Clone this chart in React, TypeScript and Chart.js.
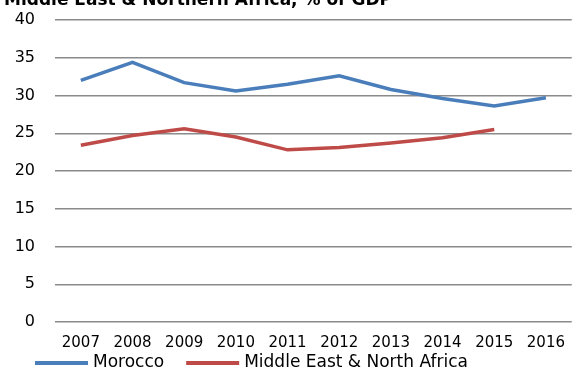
import React, { useEffect, useRef } from "react";
import { Chart, registerables } from "chart.js";

Chart.register(...registerables);

const years = ["2007", "2008", "2009", "2010", "2011", "2012", "2013", "2014", "2015", "2016"];
const morocco = [32.0, 34.4, 31.7, 30.6, 31.5, 32.6, 30.8, 29.6, 28.6, 29.7];
const mena = [23.4, 24.7, 25.6, 24.5, 22.8, 23.1, 23.7, 24.4, 25.5, null];
const seriesNames = ["Morocco", "Middle East & North Africa"];
const seriesColors = ["#4A7EBB", "#BE4B48"];
const titleText = "Middle East & Northern Africa, % of GDP";
const FONT = "'DejaVu Sans', sans-serif";

// Title sits at the very top edge; legend is drawn as a row of long line swatches.
const headerAndLegend = {
  id: "headerAndLegend",
  afterDraw(chart: Chart) {
    const ctx = chart.ctx;
    ctx.save();
    ctx.fillStyle = "#000";
    ctx.font = `bold 17px ${FONT}`;
    ctx.textAlign = "left";
    ctx.textBaseline = "alphabetic";
    ctx.fillText(titleText, 4, 5);

    ctx.font = `17px ${FONT}`;
    ctx.textBaseline = "middle";
    const y = 363;
    let x = 35;
    chart.data.datasets.forEach((ds) => {
      ctx.fillStyle = ds.borderColor as string;
      ctx.fillRect(x, y - 2, 53, 4);
      x += 58;
      ctx.fillStyle = "#000";
      const label = ds.label as string;
      ctx.fillText(label, x, y);
      x += ctx.measureText(label).width + 22;
    });
    ctx.restore();
  },
};

export default function App() {
  const ref = useRef<HTMLCanvasElement | null>(null);

  useEffect(() => {
    if (!ref.current) return;
    const chart = new Chart(ref.current, {
      type: "line",
      data: {
        labels: years,
        datasets: [
          {
            label: seriesNames[0],
            data: morocco,
            borderColor: seriesColors[0],
            backgroundColor: seriesColors[0],
            borderWidth: 3.5,
            pointRadius: 0,
            tension: 0,
          },
          {
            label: seriesNames[1],
            data: mena,
            borderColor: seriesColors[1],
            backgroundColor: seriesColors[1],
            borderWidth: 3.5,
            pointRadius: 0,
            tension: 0,
          },
        ],
      },
      options: {
        animation: false,
        responsive: true,
        maintainAspectRatio: false,
        layout: { padding: { left: 15, right: 0, top: 20, bottom: 21 } },
        plugins: {
          title: { display: false },
          legend: { display: false },
          tooltip: { enabled: false },
        },
        scales: {
          x: {
            offset: true,
            grid: { display: false, drawTicks: false },
            border: { display: false },
            ticks: { color: "#000", font: { family: FONT, size: 15 }, padding: 12, maxRotation: 0 },
            afterFit: (scale: any) => {
              scale.height = 29;
            },
          },
          y: {
            min: 0,
            max: 40,
            border: { display: false },
            grid: { color: "#8A8A8A", lineWidth: 1.5, drawTicks: false },
            ticks: { stepSize: 5, color: "#000", font: { family: FONT, size: 16 }, padding: 20 },
            afterFit: (scale: any) => {
              scale.width = 40;
              scale.paddingTop = 0;
              scale.paddingBottom = 0;
            },
          },
        },
      },
      plugins: [headerAndLegend],
    });
    return () => chart.destroy();
  }, []);

  return (
    <div style={{ position: "fixed", left: 0, top: 0, width: 577, height: 372, background: "#fff" }}>
      <canvas ref={ref} />
    </div>
  );
}
